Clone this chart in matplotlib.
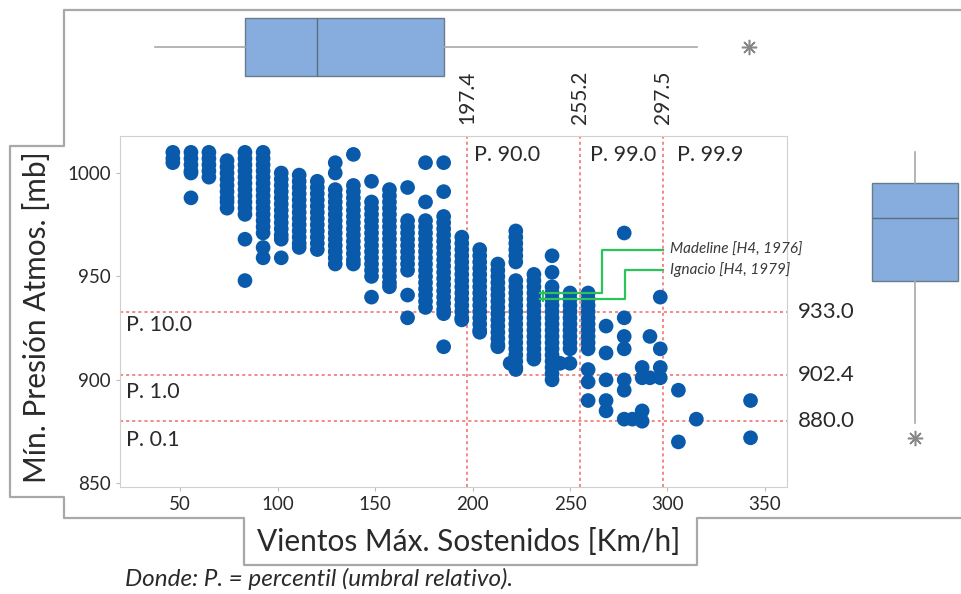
import matplotlib.pyplot as plt
import numpy as np

plt.rcParams['font.family'] = ['Lato', 'DejaVu Sans']

# wind columns [km/h] and the pressures [mb] read in each column
col_wind = [46.3, 55.6, 64.8, 74.1, 83.3, 92.6, 101.9, 111.1, 120.4, 129.6,
            138.9, 148.2, 157.4, 166.7, 175.9, 185.2, 194.5, 203.7, 213.0, 222.2,
            231.5, 240.8, 250.0, 259.3, 268.5, 277.8, 287.0, 296.3, 305.6, 314.8,
            342.6]
col_pres = [
    [1010, 1007, 1005],
    [1010, 1007, 1004, 1001, 1000, 988],
    [1010, 1007, 1004, 1001, 998],
    [1006, 1003, 1000, 997, 994, 991, 988, 986, 983],
    [1010, 1007, 1004, 1001, 998, 995, 992, 989, 986, 983, 980, 968, 948],
    [1010, 1007, 1004, 1001, 998, 995, 992, 989, 986, 983, 980, 977, 974, 971, 964, 959],
    [1000, 997, 994, 991, 988, 985, 982, 979, 976, 973, 970, 968, 959],
    [999, 996, 993, 990, 987, 984, 981, 978, 975, 972, 969, 966, 964],
    [996, 993, 990, 987, 984, 981, 978, 975, 972, 969, 966, 963],
    [1005, 1000, 992, 989, 986, 983, 980, 977, 974, 971, 968, 965, 962, 959, 956],
    [1009, 994, 991, 988, 985, 982, 979, 976, 973, 970, 967, 964, 961, 958, 956],
    [996, 986, 983, 980, 977, 974, 971, 968, 965, 962, 959, 956, 953, 950, 940],
    [992, 989, 986, 983, 980, 977, 974, 971, 968, 965, 962, 959, 956, 953, 950, 947, 945],
    [993, 977, 974, 971, 968, 965, 962, 959, 956, 953, 941, 930],
    [1005, 986, 977, 974, 971, 968, 965, 962, 959, 956, 953, 950, 947, 944, 941, 938, 935],
    [1005, 991, 979, 976, 973, 970, 967, 964, 961, 958, 955, 952, 949, 946, 943, 940, 937,
     934, 932, 916],
    [969, 966, 963, 960, 957, 954, 951, 948, 945, 942, 939, 936, 933, 930, 929],
    [963, 960, 957, 954, 951, 948, 945, 942, 939, 936, 933, 930, 927, 924, 923],
    [956, 953, 950, 947, 944, 941, 938, 935, 932, 929, 926, 923, 920, 917, 916],
    [972, 969, 966, 963, 960, 957, 948, 945, 942, 939, 936, 933, 930, 927, 924, 921,
     918, 915, 912, 909, 906, 905],
    [951, 948, 945, 942, 939, 936, 933, 930, 927, 924, 921, 918, 915, 912, 910],
    [960, 952, 945, 942, 939, 936, 933, 930, 927, 924, 921, 918, 915, 912, 909, 906,
     903, 900],
    [942, 939, 936, 933, 930, 927, 924, 921, 918, 915, 908],
    [942, 939, 936, 933, 930, 927, 924, 921, 918, 915, 905, 899, 890],
    [926, 913, 900, 890, 885],
    [971, 930, 921, 915, 900, 895, 881],
    [906, 901, 885, 880],
    [940, 915, 906, 901],
    [895, 870],
    [881],
    [890, 872],
]
# points that sit off the main columns
extra_wind = [219.3, 244.9, 282.0, 291.0, 291.0]
extra_pres = [908, 908, 881, 921, 901]

# percentile thresholds
wind_thr = [197.4, 255.2, 297.5]
wind_thr_lbl = ['197.4', '255.2', '297.5']
wind_pct = ['P. 90.0', 'P. 99.0', 'P. 99.9']
wind_pct_x = [201.0, 260.3, 304.9]
pres_thr = [933.0, 902.4, 880.0]
pres_thr_lbl = ['933.0', '902.4', '880.0']
pres_pct = ['P. 10.0', 'P. 1.0', 'P. 0.1']
pres_pct_y = [926.5, 894.0, 871.0]

# highlighted storms
storm_names = ['Madeline [H4, 1976]', 'Ignacio [H4, 1979]']
storm_wind = [234.6, 234.6]
storm_pres = [942.0, 939.0]
storm_step_x = [266.4, 278.2]
storm_text_y = [962.8, 953.1]

# marginal box statistics
wind_box = dict(med=120.3, q1=83.3, q3=185.4, whislo=37.0, whishi=315.0, fliers=[342.0])
pres_box = dict(med=978.3, q1=947.8, q3=995.2, whislo=879.2, whishi=1010.0, fliers=[872.0])

wind = np.concatenate([[w] * len(p) for w, p in zip(col_wind, col_pres)] + [extra_wind])
pres = np.concatenate([np.array(p, float) for p in col_pres] + [np.array(extra_pres, float)])

W, H = 961, 594
fig = plt.figure(figsize=(W / 100, H / 100), dpi=100)

def px_axes(x0, y0, x1, y1, **kw):
    return fig.add_axes([x0 / W, 1 - y1 / H, (x1 - x0) / W, (y1 - y0) / H], **kw)

# grey frame behind everything
bg = px_axes(0, 0, W, H, zorder=0)
bg.set_xlim(0, W)
bg.set_ylim(H, 0)
bg.axis('off')
bg.plot([961, 64, 64, 10, 10, 64, 64, 244, 244, 697, 697, 961],
        [10, 10, 146, 146, 497, 497, 518, 518, 565, 565, 518, 518],
        color='#a8a8a8', lw=1.6)

txt = '#2a2a2a'
dot = '#0a5aac'
red = '#ef6a6a'

ax = px_axes(120, 136, 787, 487, zorder=2)
ax.scatter(wind, pres, s=112, color=dot, edgecolors='none', zorder=3)
ax.set_xlim(19.2, 361.3)
ax.set_ylim(848.2, 1017.9)
ax.set_xticks([50, 100, 150, 200, 250, 300, 350])
ax.set_yticks([850, 900, 950, 1000])
ax.tick_params(labelsize=13.5, colors='#bbbbbb', labelcolor=txt, length=3)
for sp in ax.spines.values():
    sp.set_color('#d0d0d0')

for x, lbl, pct, px in zip(wind_thr, wind_thr_lbl, wind_pct, wind_pct_x):
    ax.axvline(x, color=red, lw=1.1, ls=(0, (2, 2)), zorder=2)
    ax.annotate(lbl, xy=(x, 1), xycoords=('data', 'axes fraction'),
                xytext=(0, 9), textcoords='offset points', rotation=90,
                ha='center', va='bottom', fontsize=15, color=txt, annotation_clip=False)
    ax.text(px, 1008.5, pct, fontsize=15.5, color=txt, va='center', ha='left')

for y, lbl, pct, py in zip(pres_thr, pres_thr_lbl, pres_pct, pres_pct_y):
    ax.axhline(y, color=red, lw=1.1, ls=(0, (2, 2)), zorder=2)
    ax.text(1.0165, y, lbl, transform=ax.get_yaxis_transform(), fontsize=16,
            color=txt, va='center', ha='left')
    ax.text(22.5, py, pct, fontsize=15.5, color=txt, va='center', ha='left')

green = '#2cc35a'
for name, sx, sy, stx, ty in zip(storm_names, storm_wind, storm_pres, storm_step_x, storm_text_y):
    ax.plot([sx, stx, stx, 297.7], [sy, sy, ty, ty], color=green, lw=1.6, zorder=4)
    ax.text(301.3, ty, name, fontsize=11, style='italic', color='#3a3a3a',
            va='center', ha='left', zorder=5)
ax.plot(storm_wind[0] + 1.5, np.mean(storm_pres), marker='|', ms=9, mew=1.6,
        color=green, zorder=4)

ax.set_xlabel('Vientos Máx. Sostenidos [Km/h]', fontsize=21.5, color=txt)
ax.set_ylabel('Mín. Presión Atmos. [mb]', fontsize=21.5, color=txt)
ax.xaxis.set_label_coords((469 - 120) / 667, -(528 - 487) / 351)
ax.yaxis.set_label_coords(-(120 - 51) / 667, (487 - 317) / 351)

box_kw = dict(patch_artist=True, showcaps=False,
              boxprops=dict(facecolor='#86addd', edgecolor='#6a7b8c', lw=1),
              medianprops=dict(color='#5d6e80', lw=1),
              whiskerprops=dict(color='#a8a8a8', lw=1.2),
              flierprops=dict(marker=(8, 2, 0), markersize=11, markeredgecolor='#888888',
                              markeredgewidth=1.1))

top = px_axes(120, 10, 787, 90, zorder=1)
top.bxp([wind_box], orientation='horizontal', positions=[0.5375], widths=0.725, **box_kw)
top.set_xlim(ax.get_xlim())
top.set_ylim(0, 1)
top.axis('off')

right = px_axes(860, 136, 961, 487, zorder=1)
right.bxp([pres_box], positions=[0.545], widths=0.85, **box_kw)
right.set_ylim(ax.get_ylim())
right.set_xlim(0, 1)
right.axis('off')

fig.text(125 / W, 1 - 579 / H, 'Donde: P. = percentil (umbral relativo).', fontsize=17.5,
         style='italic', color=txt, va='center', ha='left')

fig.savefig('out.png', dpi=100)
